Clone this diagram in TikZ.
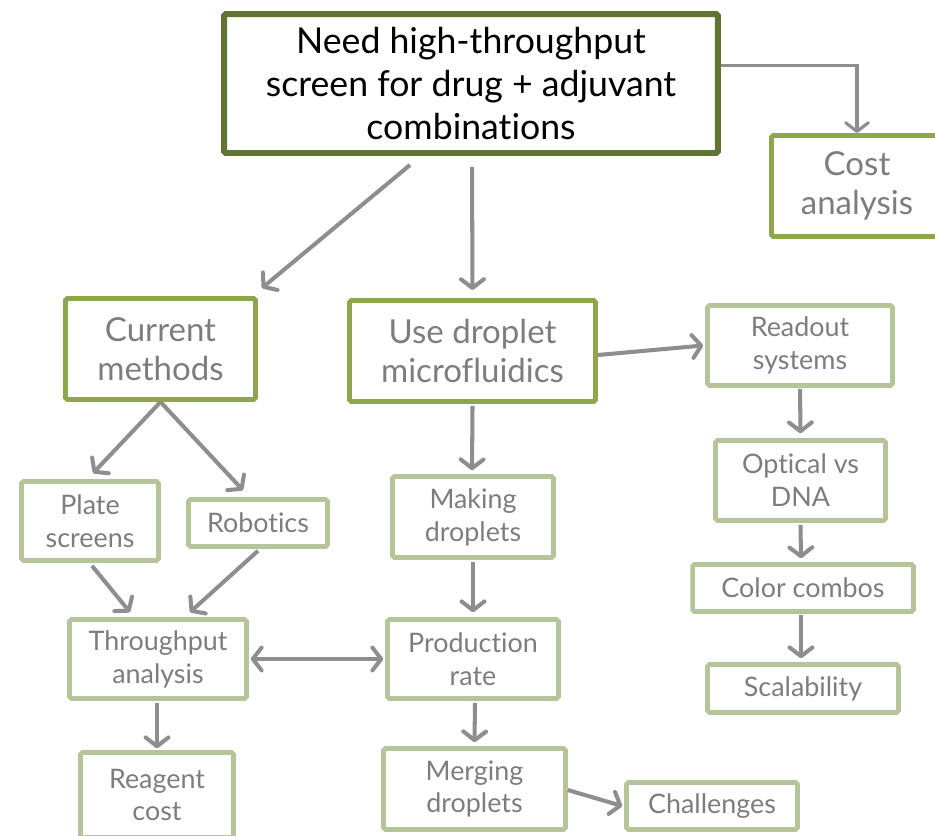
\documentclass[tikz,border=0pt]{standalone}
\usepackage{fontspec}
\setmainfont{Lato}[Ligatures=CommonOff]
\usetikzlibrary{arrows.meta, calc}

\definecolor{darkolive}{RGB}{98,116,52}
\definecolor{midolive}{RGB}{142,166,76}
\definecolor{paleolive}{RGB}{182,197,153}
\definecolor{arrowgrey}{RGB}{142,142,142}
\definecolor{textgrey}{RGB}{125,125,125}

\begin{document}
\begin{tikzpicture}[
                x = 0.02cm, y = -0.02cm, % one unit = one pixel of the slide
                > = {Straight Barb[length=5pt, width=13pt, round]}, % arrow head style
                link/.style = {->, draw = arrowgrey, line width = 2.3pt},
                semithick % line style
            ]

            \tikzstyle{bigbox}=[draw = darkolive, line width = 3.4pt, text = black,
            align = center, inner sep = 0pt, rounded corners = 1pt,
            font = \fontsize{20.3}{24.5}\selectfont]
            \tikzstyle{midbox}=[draw = midolive, line width = 2.8pt, text = textgrey,
            align = center, inner sep = 0pt, rounded corners = 1pt,
            font = \fontsize{18.8}{22.5}\selectfont]
            \tikzstyle{smallbox}=[draw = paleolive, line width = 2.6pt, text = textgrey,
            align = center, inner sep = 0pt, rounded corners = 1pt,
            font = \fontsize{15.3}{18.7}\selectfont]

            \useasboundingbox (0,0) rectangle (935,835);
            \clip (0,0) rectangle (935,835);

            % top row
            \node (need) [bigbox, minimum width=9.88cm, minimum height=2.78cm]
            at (471,83.5) {Need high-throughput\\screen for drug + adjuvant\\combinations};
            \node (cost) [midbox, minimum width=3.42cm, minimum height=2.02cm]
            at (857,186) {Cost\\analysis};

            % second row
            \node (current) [midbox, minimum width=3.8cm, minimum height=2.02cm]
            at (160.5,349) {Current\\methods}; \node (droplet) [midbox, minimum
            width=4.92cm, minimum height=2.02cm] at (472.5,351) {Use droplet\\microfluidics};
            \node (readout) [smallbox, minimum width=3.7cm, minimum height=1.6cm]
            at (800,345.5) {Readout\\systems};

            % left branch
            \node (plate) [smallbox, minimum width=2.74cm, minimum height=1.58cm]
            at (90,521) {Plate\\screens}; \node (robotics) [smallbox, minimum
            width=2.78cm, minimum height=0.94cm] at (258,523) {Robotics};
            \node (through) [smallbox, minimum width=3.54cm, minimum height=1.58cm]
            at (158,659) {Throughput\\analysis}; \node (reagent) [smallbox, minimum
            width=3.06cm, minimum height=1.7cm] at (157,795) {Reagent\\cost};

            % middle branch
            \node (making) [smallbox, minimum width=3.22cm, minimum height=1.62cm]
            at (473,517) {Making\\droplets}; \node (prod) [smallbox, minimum
            width=3.42cm, minimum height=1.58cm] at (473,659) {Production\\rate};
            \node (merging) [smallbox, minimum width=3.64cm, minimum height=1.62cm]
            at (474.5,789) {Merging\\droplets}; \node (challenge) [smallbox, minimum
            width=3.42cm, minimum height=0.94cm] at (712,806) {Challenges};

            % right branch
            \node (optical) [smallbox, minimum width=3.4cm, minimum height=1.6cm]
            at (800.5,480.5) {Optical vs\\DNA}; \node (combos) [smallbox, minimum
            width=4.42cm, minimum height=0.94cm] at (803,588) {Color combos};
            \node (scale) [smallbox, minimum width=3.82cm, minimum height=0.96cm]
            at (803,688.5) {Scalability};

            \draw[link, line width=1.8pt] ($(need.east)+(0,-18)$) -| (cost.north);
            \draw[link] ($(need.south)+(-61,9)$) -- ($(current.north east)+(4,-8)$);
            \draw[link] ($(need.south)+(1,11)$) -- ($(droplet.north)+(0,-8)$);
            \draw[link] ($(droplet.east)+(0,4)$) -- ($(readout.west)+(-2,0)$);

            \draw[link] (current.south) -- ($(plate.north)+(3,-6)$);
            \draw[link] (current.south) -- ($(robotics.north)+(-15,-7)$);
            \draw[link] ($(plate.south)+(2,3)$) -- ($(through.north)+(-28,-5)$);
            \draw[link] ($(robotics.south)+(0,2)$) -- ($(through.north)+(32,-5)$);
            \draw[link, <->] ($(through.east)+(2,0)$) -- ($(prod.west)+(-2,0)$);
            \draw[link] ($(through.south)+(-1,2)$) -- ($(reagent.north)+(0,-2)$);

            \draw[link] ($(droplet.south)+(0,2)$) -- ($(making.north)+(-1,-4)$);
            \draw[link] ($(making.south)+(0,2)$) -- ($(prod.north)+(0,-5)$);
            \draw[link] ($(prod.south)+(2,2)$) -- ($(merging.north)+(0,-4)$);
            \draw[link] ($(merging.east)+(0,1)$) -- ($(challenge.west)+(-2,0)$);

            \draw[link] ($(readout.south)+(0,1)$) -- ($(optical.north)+(0,-5)$);
            \draw[link] ($(optical.south)+(0,2)$) -- ($(combos.north)+(-2,-4)$);
            \draw[link] ($(combos.south)+(-2,1)$) -- ($(scale.north)+(-2,-4)$);

        \end{tikzpicture}
\end{document}
